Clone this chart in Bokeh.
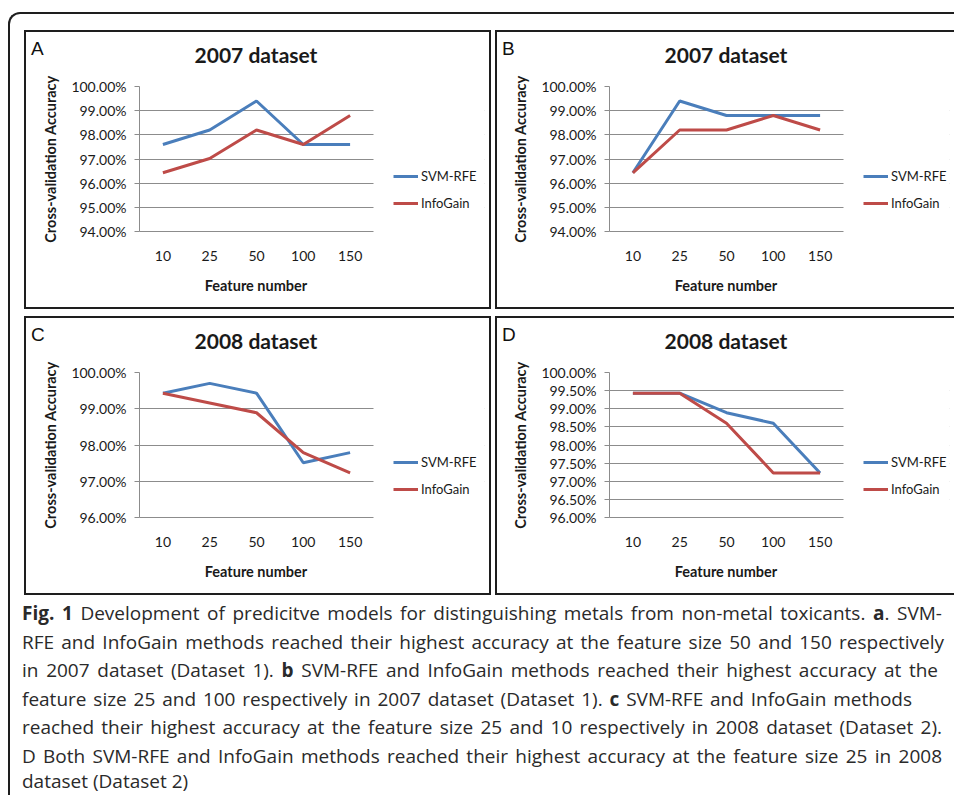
from bokeh.plotting import figure
from bokeh.models import (Range1d, FixedTicker, PrintfTickFormatter, BoxAnnotation,
                          Legend, LegendItem, Div, Spacer)
from bokeh.layouts import column, row
from bokeh.embed import file_html
from bokeh.resources import INLINE

# ---------------- data ----------------
features = ["10", "25", "50", "100", "150"]

a_svm = [97.6, 98.2, 99.4, 97.6, 97.6]
a_info = [96.43, 97.02, 98.2, 97.6, 98.8]
b_svm = [96.43, 99.4, 98.8, 98.8, 98.8]
b_info = [96.43, 98.2, 98.2, 98.8, 98.2]
c_svm = [99.43, 99.7, 99.43, 97.51, 97.79]
c_info = [99.43, 99.16, 98.89, 97.79, 97.23]
d_svm = [99.43, 99.43, 98.89, 98.6, 97.23]
d_info = [99.43, 99.43, 98.6, 97.23, 97.23]

ticks_ab = [94, 95, 96, 97, 98, 99, 100]
ticks_c = [96, 97, 98, 99, 100]
ticks_d = [96, 96.5, 97, 97.5, 98, 98.5, 99, 99.5, 100]

series_names = ["SVM-RFE", "InfoGain"]
panel_letters = ["A", "B", "C", "D"]
panel_titles = ["2007 dataset", "2007 dataset", "2008 dataset", "2008 dataset"]
y_title = "Cross-validation Accuracy"
x_title = "Feature number"

BLUE = "#4A7EBB"
RED = "#BE4B48"
GRID = "#8C8C8C"
TXT = "#1a1a1a"
FONT = "Lato"
HEADER_H = 40
FOOTER_H = 30
PLOT_W = 234          # width of the plotting area (category bands)
RIGHT_B = 5

# category band centres on a numeric axis, labelled with the feature numbers
n_cat = len(features)
xpos = [i + 0.5 for i in range(n_cat)]


def make_panel(letter, title, svm, info, ymin, ticks, width, left):
    frame_w = width - left - RIGHT_B
    x_end = n_cat * frame_w / PLOT_W
    p = figure(width=width, height=275 - HEADER_H - FOOTER_H,
               x_range=Range1d(0, x_end), y_range=Range1d(ymin, 100),
               output_backend="svg", toolbar_location=None,
               min_border_left=left, min_border_right=RIGHT_B,
               min_border_top=54 - HEADER_H, min_border_bottom=76 - FOOTER_H)
    p.outline_line_color = None
    p.background_fill_color = "white"
    p.border_fill_color = "white"

    p.xgrid.grid_line_color = None
    p.ygrid.ticker = FixedTicker(ticks=ticks)
    p.ygrid.grid_line_color = GRID
    p.ygrid.grid_line_width = 1
    # keep grid lines inside the category area (legend sits to the right)
    p.add_layout(BoxAnnotation(left=n_cat, right=x_end * 1.2,
                               bottom=ymin - 5, top=105,
                               fill_color="white", fill_alpha=1,
                               line_alpha=0, level="underlay"))

    ya = p.yaxis[0]
    ya.ticker = FixedTicker(ticks=ticks)
    ya.formatter = PrintfTickFormatter(format="%.2f%%")
    ya.axis_line_color = GRID
    ya.major_tick_line_color = GRID
    ya.major_tick_out = 5
    ya.major_tick_in = 0
    ya.minor_tick_line_color = None
    ya.major_label_text_font = FONT
    ya.major_label_text_font_size = "14px"
    ya.major_label_text_color = TXT
    ya.major_label_standoff = 8
    ya.axis_label = y_title
    ya.axis_label_text_font = FONT
    ya.axis_label_text_font_style = "bold"
    ya.axis_label_text_font_size = "14.5px"
    ya.axis_label_text_color = TXT
    ya.axis_label_standoff = 9

    xa = p.xaxis[0]
    xa.ticker = FixedTicker(ticks=xpos)
    xa.major_label_overrides = {x: f for x, f in zip(xpos, features)}
    xa.bounds = (0, n_cat)
    xa.axis_line_color = GRID
    xa.major_tick_line_color = None
    xa.minor_tick_line_color = None
    xa.major_label_text_font = FONT
    xa.major_label_text_font_size = "14px"
    xa.major_label_text_color = TXT
    xa.major_label_standoff = 13

    r1 = p.line(x=xpos, y=svm, line_color=BLUE, line_width=3)
    r2 = p.line(x=xpos, y=info, line_color=RED, line_width=3)

    legend = Legend(items=[LegendItem(label=series_names[0], renderers=[r1]),
                           LegendItem(label=series_names[1], renderers=[r2])],
                    location=(PLOT_W + 20, 18), padding=0, margin=0, spacing=7,
                    glyph_width=25, glyph_height=20, label_standoff=3,
                    label_text_font=FONT, label_text_font_size="13px",
                    label_text_color=TXT,
                    border_line_color=None, background_fill_alpha=0)
    p.add_layout(legend)

    plot_center = left + PLOT_W / 2
    header_html = (
        "<div style='position:relative;width:%dpx;height:%dpx;'>"
        "<span style=\"position:absolute;left:5px;top:7px;font-family:'Liberation Sans';"
        "font-size:19px;line-height:19px;color:#111;white-space:nowrap;\">%s</span>"
        "<span style=\"position:absolute;left:%dpx;top:12px;transform:translateX(-50%%);"
        "font-family:'Lato';font-weight:bold;font-size:21px;line-height:21px;color:%s;"
        "white-space:nowrap;\">%s</span></div>"
    ) % (width, HEADER_H, letter, plot_center, TXT, title)
    header = Div(text=header_html, width=width, height=HEADER_H, margin=0)

    footer_html = (
        "<div style='position:relative;width:%dpx;height:%dpx;'>"
        "<span style=\"position:absolute;left:%dpx;top:1px;transform:translateX(-50%%);"
        "font-family:'Lato';font-weight:bold;font-size:14.5px;line-height:15px;color:%s;"
        "white-space:nowrap;\">%s</span></div>"
    ) % (width, FOOTER_H, plot_center, TXT, x_title)
    footer = Div(text=footer_html, width=width, height=FOOTER_H, margin=0)

    return column(header, p, footer, spacing=0,
                  styles={"outline": "2px solid #1e1e1e", "background": "white"})


pA = make_panel(panel_letters[0], panel_titles[0], a_svm, a_info, 94, ticks_ab, 463, 113)
pB = make_panel(panel_letters[1], panel_titles[1], b_svm, b_info, 94, ticks_ab, 457, 112)
pC = make_panel(panel_letters[2], panel_titles[2], c_svm, c_info, 96, ticks_c, 463, 113)
pD = make_panel(panel_letters[3], panel_titles[3], d_svm, d_info, 96, ticks_d, 457, 112)

caption_lines = [
    ("<b>Fig. 1</b> Development of predicitve models for distinguishing metals from non-metal toxicants. <b>a</b>. SVM-", 920),
    ("RFE and InfoGain methods reached their highest accuracy at the feature size 50 and 150 respectively", 922),
    ("in 2007 dataset (Dataset 1). <b>b</b> SVM-RFE and InfoGain methods reached their highest accuracy at the", 916),
    ("feature size 25 and 100 respectively in 2007 dataset (Dataset 1). <b>c</b> SVM-RFE and InfoGain methods", 890),
    ("reached their highest accuracy at the feature size 25 and 10 respectively in 2008 dataset (Dataset 2).", 920),
    ("D Both SVM-RFE and InfoGain methods reached their highest accuracy at the feature size 25 in 2008", 920),
]
last_line = "dataset (Dataset 2)"

html = "<div style=\"font-family:'Open Sans';font-size:19px;color:#2a2a2a;\">"
for txt, w in caption_lines:
    html += ("<div style='width:%dpx;height:28.6px;line-height:28.6px;text-align:justify;"
             "text-align-last:justify;white-space:nowrap;'>%s</div>" % (w, txt))
html += ("<div style='height:14px;line-height:14px;position:relative;top:3px;"
         "white-space:nowrap;'>%s</div>" % last_line)
html += "</div>"

caption = Div(text=html, width=925, height=194,
              styles={"margin-top": "-5px", "margin-left": "12px"})

inner = column(Spacer(height=7),
               row(Spacer(width=8), pA, pB, spacing=8),
               row(Spacer(width=8), pC, pD, spacing=8),
               caption,
               spacing=11,
               styles={"border-left": "2px solid #1e1e1e",
                       "border-top": "2px solid #1e1e1e",
                       "border-top-left-radius": "12px"})
layout = column(Spacer(height=12), row(Spacer(width=8), inner, spacing=0), spacing=0)

open("out.html", "w").write(file_html(layout, INLINE))
